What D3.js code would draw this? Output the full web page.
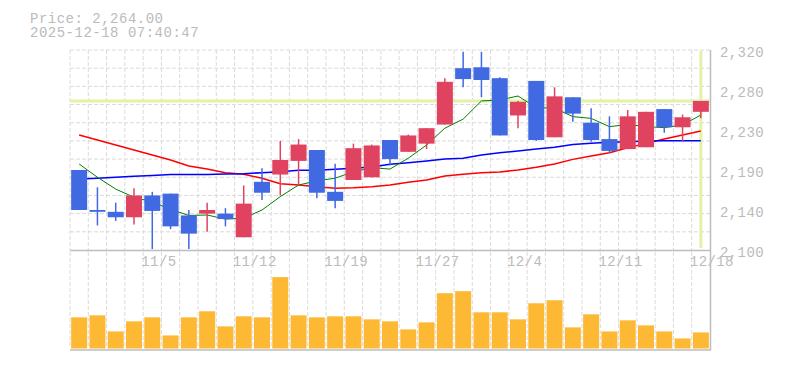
<!DOCTYPE html>
<html><head><meta charset="utf-8">
<script src="https://cdn.jsdelivr.net/npm/d3@7"></script>
<style>
html,body{margin:0;padding:0;background:#fff;}
svg{display:block;}
text{font-family:"Liberation Mono","DejaVu Sans Mono",monospace;fill:#bbbbbb;}
</style></head>
<body>
<svg id="chart" width="785" height="370"></svg>
<script>
const dates = ["10/29","10/30","10/31","11/4","11/5","11/6","11/7","11/10","11/11","11/12","11/13","11/14","11/17","11/18","11/19","11/20","11/21","11/25","11/26","11/27","11/28","12/1","12/2","12/3","12/4","12/5","12/8","12/9","12/10","12/11","12/12","12/15","12/16","12/17","12/18"];
const openV  = [2188,2144,2142,2136,2160,2162,2138,2140,2140,2114,2175,2183,2198,2210,2164,2177,2180,2221,2208,2217,2238,2300,2301,2289,2248,2286,2224,2268,2240,2222,2211,2213,2255,2235,2252];
const highV  = [2188,2169,2152,2168,2164,2162,2144,2152,2146,2171,2190,2220,2222,2210,2195,2217,2216,2221,2227,2234,2289,2318,2318,2290,2264,2286,2279,2268,2256,2247,2254,2252,2255,2249,2264];
const lowV   = [2144,2127,2132,2128,2101,2123,2101,2120,2126,2114,2155,2160,2171,2157,2146,2177,2180,2193,2208,2211,2238,2279,2268,2226,2234,2220,2224,2241,2219,2207,2211,2213,2229,2220,2245];
const closeV = [2144,2142,2136,2160,2143,2126,2118,2144,2134,2151,2163,2199,2216,2163,2154,2212,2215,2200,2226,2234,2285,2288,2287,2226,2263,2221,2269,2250,2221,2209,2247,2252,2235,2246,2264];
const volumeV = [310,330,170,270,310,130,310,370,220,320,310,710,330,310,320,320,290,270,190,260,550,570,360,360,290,450,480,210,340,170,280,230,170,100,160];
const ma5  = [2194.6,2180,2167,2158,2153,2144.8,2138,2138.5,2134,2135,2144,2158.7,2171.5,2176,2179,2186,2190.6,2189,2201,2215.5,2234,2244,2264,2265,2269.4,2256.5,2256,2246.7,2244.8,2235.7,2238,2235.7,2234.6,2237.5,2248.5];
const ma25 = [2178,2178.9,2180,2181,2182,2183,2183,2183,2183.6,2184,2185,2186,2187.6,2187.6,2188.7,2190,2191.3,2194.2,2196,2198,2200,2201,2204.5,2207,2209,2211,2213,2216,2217.3,2218.5,2219,2220,2220.3,2220.3,2220.3];
const ma75 = [2226.5,2221,2215.5,2210,2204.5,2199,2192.4,2189,2185,2183.3,2179,2173,2171.5,2169.7,2168,2168.6,2169.7,2171.5,2174.4,2177,2181.4,2183.3,2185,2185.8,2188,2191,2194.6,2199.7,2203.4,2207,2212.5,2217.3,2222,2226.5,2231];
const xTickLabels = ["11/5","11/12","11/19","11/27","12/4","12/11","12/18"];
const yTicks = [2100,2144,2188,2232,2276,2320];
const yTickLabels = ["2,100","2,140","2,190","2,230","2,280","2,320"];
const lastPrice = 2264;
const titleLines = ["Price: 2,264.00","2025-12-18 07:40:47"];

const svg = d3.select("#chart");
const L = 70, R = 710, T = 50, B = 250;
const VT = 258, VB = 348.5, VAX = 350;

const x = d3.scaleBand().domain(dates).range([L, R]).paddingInner(0.125).paddingOuter(0.0625);
const step = x.step();
const y = d3.scaleLinear().domain([2100, 2320]).range([B, T]);
const yv = d3.scaleLinear().domain([0, 900]).range([VB, VT]);
const cx = d => x(d) + x.bandwidth() / 2;

const gridColor = "#dadada", dash = "4,2";
const g = svg.append("g");
d3.range(11).forEach(k => {
  const yy = T + k * (B - T) / 11;
  g.append("line").attr("x1", L).attr("x2", R).attr("y1", yy).attr("y2", yy)
    .attr("stroke", gridColor).attr("stroke-dasharray", dash);
});
d3.range(dates.length).forEach(i => {
  const xx = L + i * step;
  g.append("line").attr("x1", xx).attr("x2", xx).attr("y1", T).attr("y2", B)
    .attr("stroke", gridColor).attr("stroke-dasharray", dash);
  g.append("line").attr("x1", xx).attr("x2", xx).attr("y1", B + 2).attr("y2", VB)
    .attr("stroke", gridColor).attr("stroke-dasharray", dash);
});

// current price lines
svg.append("line").attr("x1", L).attr("x2", R).attr("y1", y(lastPrice)).attr("y2", y(lastPrice))
  .attr("stroke", "#e2f2a6").attr("stroke-width", 3);
svg.append("line").attr("x1", cx(dates[dates.length-1])).attr("x2", cx(dates[dates.length-1]))
  .attr("y1", T + 1).attr("y2", B - 2).attr("stroke", "#e2f2a6").attr("stroke-width", 3);

// moving averages
const lineGen = arr => d3.line().x((d, i) => cx(dates[i])).y(d => y(d))(arr);
svg.append("path").attr("d", lineGen(ma75)).attr("fill", "none").attr("stroke", "#ff0000").attr("stroke-width", 1.5);
svg.append("path").attr("d", lineGen(ma25)).attr("fill", "none").attr("stroke", "#0000ff").attr("stroke-width", 1.5);
svg.append("path").attr("d", lineGen(ma5)).attr("fill", "none").attr("stroke", "#008000").attr("stroke-width", 1);

// candles
const upC = "#e0435f", dnC = "#4169e1";
const candles = svg.append("g");
dates.forEach((d, i) => {
  const o = openV[i], c = closeV[i], up = c >= o;
  const col = up ? upC : dnC;
  candles.append("line").attr("x1", cx(d)).attr("x2", cx(d)).attr("y1", y(highV[i])).attr("y2", y(lowV[i]))
    .attr("stroke", col).attr("stroke-width", 1.5);
  candles.append("rect").attr("x", x(d)).attr("width", x.bandwidth())
    .attr("y", y(Math.max(o, c))).attr("height", Math.max(1, Math.abs(y(o) - y(c))))
    .attr("fill", col);
});

// volume
dates.forEach((d, i) => {
  svg.append("rect").attr("x", x(d)).attr("width", x.bandwidth())
    .attr("y", yv(volumeV[i])).attr("height", VB - yv(volumeV[i])).attr("fill", "#fdb933");
});

// borders
const bc = "#bdbdbd";
svg.append("line").attr("x1", L).attr("x2", R + 1).attr("y1", B + 0.5).attr("y2", B + 0.5).attr("stroke", bc).attr("stroke-width", 1.5);
svg.append("line").attr("x1", R + 0.5).attr("x2", R + 0.5).attr("y1", T).attr("y2", VAX).attr("stroke", bc).attr("stroke-width", 1.5);
svg.append("line").attr("x1", L).attr("x2", R + 1).attr("y1", VAX).attr("y2", VAX).attr("stroke", bc).attr("stroke-width", 1.5);

// y axis labels
yTicks.forEach((t, k) => {
  svg.append("text").attr("x", 720).attr("y", y(t) + 7).attr("font-size", 14)
    .attr("letter-spacing", "0.4px").text(yTickLabels[k]);
});
// x labels
xTickLabels.forEach(lbl => {
  svg.append("text").attr("x", cx(lbl) - 11).attr("y", 266).attr("font-size", 14)
    .attr("letter-spacing", "0.4px").text(lbl);
});
// title
titleLines.forEach((t, k) => {
  svg.append("text").attr("x", 30).attr("y", 22.5 + k * 14).attr("font-size", 14)
    .attr("letter-spacing", "0.5px").text(t);
});
</script>
</body></html>
